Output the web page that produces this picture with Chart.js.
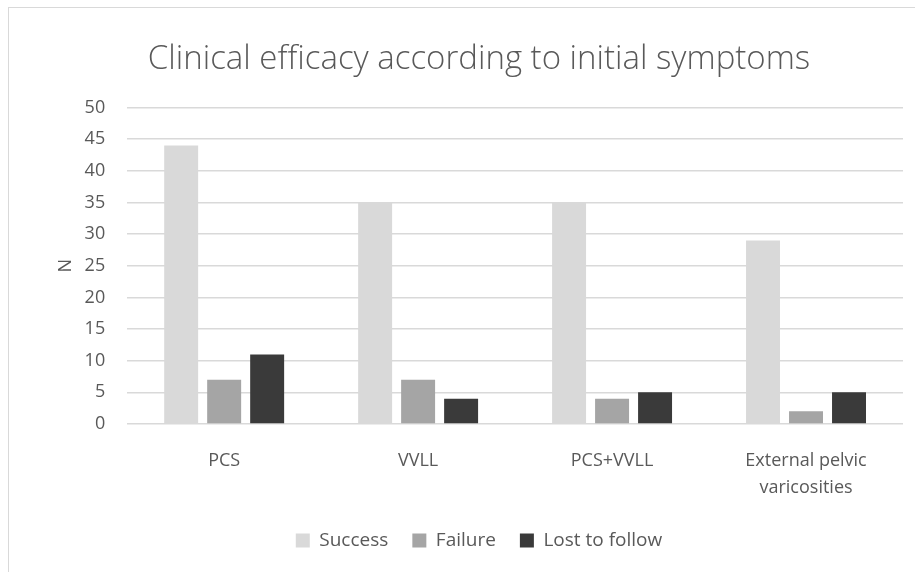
<!DOCTYPE html>
<html>
<head>
<meta charset="utf-8">
<script src="https://cdn.jsdelivr.net/npm/chart.js@4/dist/chart.umd.min.js"></script>
<style>
  html, body { margin: 0; padding: 0; background: #fff; overflow: hidden; }
  #wrap { position: absolute; left: 0; top: 0; width: 915px; height: 572px; }
  #frame { position: absolute; left: 8px; top: 7px; width: 1000px; height: 1000px; border: 1px solid #d9d9d9; pointer-events: none; }
</style>
</head>
<body>
<div id="frame"></div>
<div id="wrap"><canvas id="myChart" width="915" height="572"></canvas></div>
<script>
const categories = ['PCS', 'VVLL', 'PCS+VVLL', ['External pelvic', 'varicosities']]
const success = [44, 35, 35, 29]
const failure = [7, 7, 4, 2]
const lostToFollow = [11, 4, 5, 5]
const yTicks = [0, 5, 10, 15, 20, 25, 30, 35, 40, 45, 50]

const textColor = '#595959'
const fontName = "'Open Sans', 'Liberation Sans', sans-serif"

var ctx = document.getElementById('myChart').getContext('2d')
var myChart = new Chart(ctx, {
  type: 'bar',
  data: {
    labels: categories,
    datasets: [
      { label: 'Success', data: success, backgroundColor: '#d9d9d9' },
      { label: 'Failure', data: failure, backgroundColor: '#a5a5a5' },
      { label: 'Lost to follow', data: lostToFollow, backgroundColor: '#3a3a3a' }
    ]
  },
  options: {
    responsive: false,
    animation: false,
    categoryPercentage: 0.665,
    barPercentage: 0.79,
    layout: { padding: { left: 55, right: 12, top: 30, bottom: 12 } },
    plugins: {
      title: {
        display: true,
        text: 'Clinical efficacy according to initial symptoms',
        color: textColor,
        font: { family: fontName, size: 33, weight: '300' },
        padding: { top: 10, bottom: 28 }
      },
      legend: {
        position: 'bottom',
        labels: {
          color: textColor,
          font: { family: fontName, size: 19 },
          boxWidth: 14,
          boxHeight: 14,
          padding: 24
        }
      },
      tooltip: { enabled: false }
    },
    scales: {
      x: {
        afterFit: axis => { axis.height -= 9 },
        grid: { display: false },
        border: { display: false },
        ticks: { color: textColor, font: { family: fontName, size: 18, lineHeight: 1.5 }, padding: 15 }
      },
      y: {
        min: 0,
        max: 50,
        afterBuildTicks: axis => { axis.ticks = yTicks.map(v => ({ value: v })) },
        afterFit: axis => { axis.width -= 18 },
        grid: { color: '#d9d9d9', lineWidth: 1.5, drawTicks: false },
        border: { display: false },
        ticks: { color: textColor, font: { family: fontName, size: 18 }, padding: 22 },
        title: { display: true, text: 'N', color: textColor, font: { family: fontName, size: 18 }, padding: { top: 0, bottom: 4 } }
      }
    }
  }
})
</script>
</body>
</html>
